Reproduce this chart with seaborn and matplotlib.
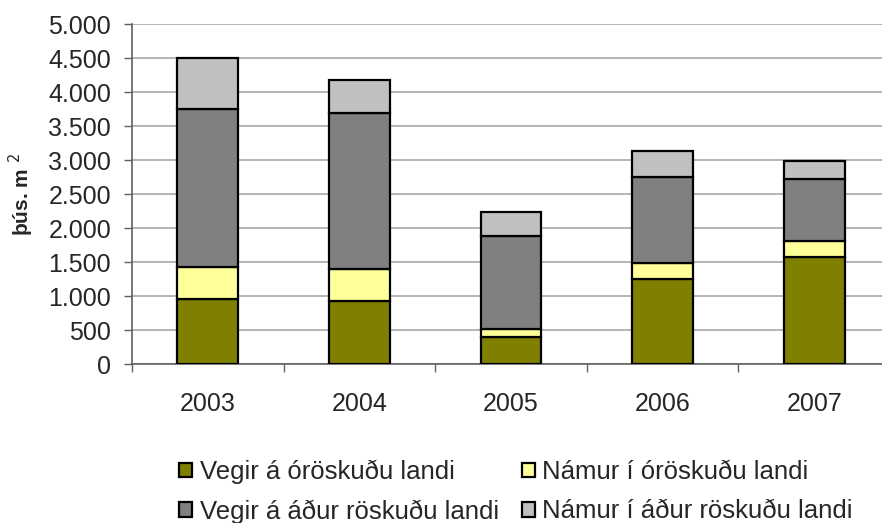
import matplotlib
matplotlib.use("Agg")
import matplotlib.pyplot as plt
import seaborn as sns
import numpy as np
import pandas as pd

years = ["2003", "2004", "2005", "2006", "2007"]
vegir_oroskud = [960, 930, 400, 1255, 1580]
namur_oroskud = [470, 470, 115, 230, 235]
vegir_adur = [2330, 2300, 1365, 1270, 910]
namur_adur = [740, 475, 355, 385, 270]

series_names = ["Vegir á óröskuðu landi", "Námur í óröskuðu landi",
                "Vegir á áður röskuðu landi", "Námur í áður röskuðu landi"]
series_vals = [vegir_oroskud, namur_oroskud, vegir_adur, namur_adur]
colors = ["#808000", "#FFFF99", "#808080", "#C0C0C0"]
yticks = [0, 500, 1000, 1500, 2000, 2500, 3000, 3500, 4000, 4500, 5000]
ytick_labels = ["0", "500", "1.000", "1.500", "2.000", "2.500", "3.000",
                "3.500", "4.000", "4.500", "5.000"]

sns.set_theme(style="white")
plt.rcParams["font.family"] = ["Liberation Sans", "DejaVu Sans"]

fig = plt.figure(figsize=(8.82, 5.23), dpi=100)
ax = fig.add_axes([132 / 882, 159 / 523, 758 / 882, 339.7 / 523])

bottom = np.zeros(len(years))
for name, vals, col in zip(series_names, series_vals, colors):
    df = pd.DataFrame({"year": years, "value": vals})
    sns.barplot(data=df, x="year", y="value", color=col, bottom=bottom,
                edgecolor="black", linewidth=1.6, width=0.4, ax=ax,
                saturation=1, label=name, zorder=3)
    bottom = bottom + np.array(vals)

if ax.get_legend() is not None:
    ax.get_legend().remove()

ax.set_xlim(-0.5, 4.5)
ax.set_ylim(0, 5000)
ax.set_yticks(yticks)
ax.set_yticklabels(ytick_labels, fontsize=18)
ax.set_xticks(range(len(years)))
ax.set_xticklabels(years, fontsize=18)
ax.set_xticks(np.arange(-0.5, 5.0, 1.0), minor=True)
ax.tick_params(axis="x", which="major", length=0, pad=20)
ax.tick_params(axis="x", which="minor", length=6, width=1, color="#606060",
               direction="out", bottom=True)
ax.tick_params(axis="y", which="major", length=6, width=1, color="#606060",
               direction="out", left=True, pad=9)
ax.grid(axis="y", color="#A8A8A8", linewidth=1.2, zorder=0)
ax.set_axisbelow(True)
for s in ["top", "right"]:
    ax.spines[s].set_visible(False)
ax.spines["left"].set_color("#606060")
ax.spines["bottom"].set_color("#606060")
ax.spines["left"].set_linewidth(1.2)
ax.spines["bottom"].set_linewidth(1.2)
ax.set_xlabel("")
ax.set_ylabel("þús. m $^{2}$", fontsize=15, fontweight="bold")
ax.yaxis.set_label_coords(-0.127, 0.5)

h, l = ax.get_legend_handles_labels()
order = [0, 2, 1, 3]
fig.legend([h[i] for i in order], [l[i] for i in order],
           loc="lower left", bbox_to_anchor=(161 / 882, -0.036), ncol=2,
           frameon=False, fontsize=18.5, handlelength=0.5,
           handleheight=0.5, handletextpad=0.3, columnspacing=0.9,
           labelspacing=0.6, borderaxespad=0.3)

fig.savefig("out.png", dpi=100)
